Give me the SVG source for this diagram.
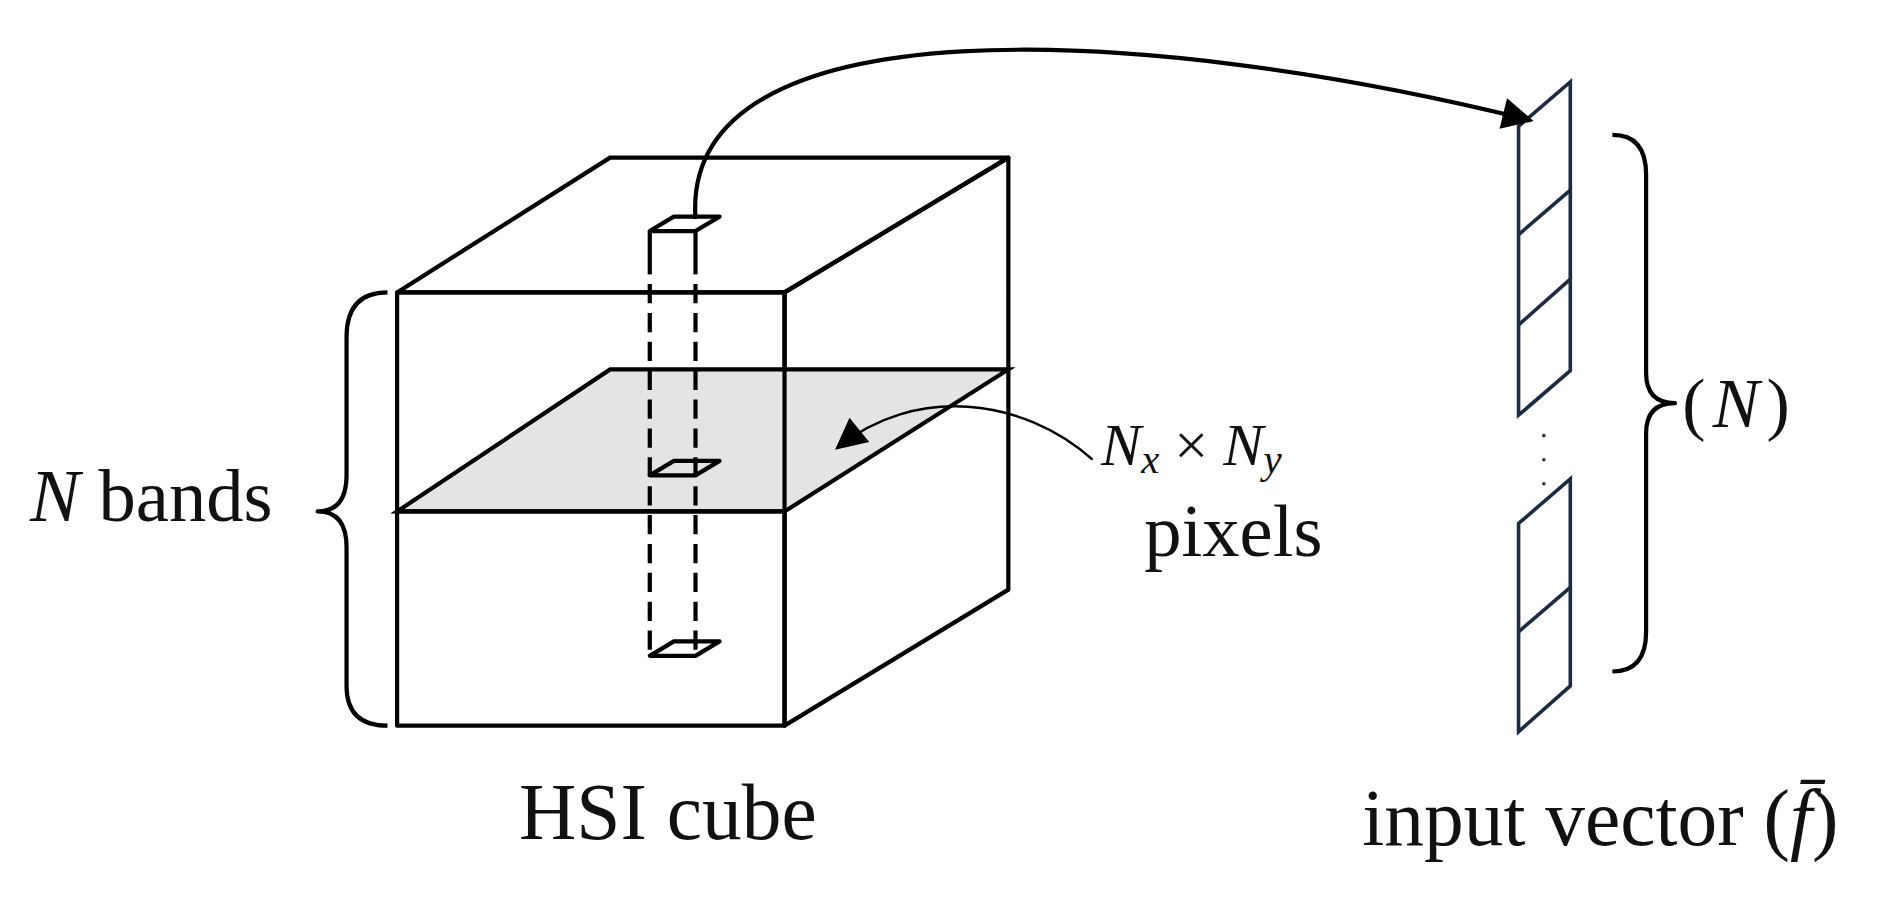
<svg xmlns="http://www.w3.org/2000/svg" width="1877" height="917" viewBox="0 0 1877 917">
<style>
.s{fill:none;stroke:#000;stroke-width:3.5;stroke-linejoin:round}
.d{fill:none;stroke:#000;stroke-width:3.5;stroke-dasharray:16 8}
.v{fill:none;stroke:#1c2a44;stroke-width:3}
.t{font-family:"Liberation Serif",serif;fill:#111}
</style>
<defs>
<marker id="ah2" viewBox="0 0 10 10" refX="9" refY="5" markerWidth="32" markerHeight="26" markerUnits="userSpaceOnUse" orient="auto">
<path d="M0,0 L10,5 L0,10 z" fill="#000"/></marker>
</defs>
<rect width="1877" height="917" fill="#fff"/>
<g transform="scale(1.2033,1.2034)">
<g id="cube">
<polygon class="s" points="330,243 507,131 838,131 652,243"/>
<polygon class="s" points="652,243 838,131 838,490 652,603"/>
<polygon points="330,425 507,307 838,307 652,425" fill="#e4e4e4" stroke="#000" stroke-width="3.5"/>
<rect class="s" x="330" y="243" width="322" height="360"/>
<line class="s" x1="330" y1="425" x2="652" y2="425"/>
</g>
<g id="column">
<polygon class="s" points="540,192 560,180 598,180 578,192" fill="#fff"/>
<line class="s" x1="540" y1="192" x2="540" y2="228"/>
<line class="s" x1="578" y1="192" x2="578" y2="228"/>
<line class="d" x1="540" y1="236" x2="540" y2="545"/>
<line class="d" x1="578" y1="236" x2="578" y2="545"/>
<polygon class="s" points="540,395 560,383 598,383 578,395" fill="#e4e4e4"/>
<polygon class="s" points="540,545 560,533 598,533 578,545" fill="#fff"/>
</g>
<g id="vector">
<polygon class="v" points="1262,105 1305,68 1305,308 1262,345"/>
<line class="v" x1="1262" y1="195" x2="1305" y2="158"/>
<line class="v" x1="1262" y1="270" x2="1305" y2="232"/>
<polygon class="v" points="1262,435 1305,398 1305,570 1262,608"/>
<line class="v" x1="1262" y1="525" x2="1305" y2="488"/>
<g fill="#333"><circle cx="1283" cy="362" r="1.5"/><circle cx="1283" cy="382" r="1.5"/><circle cx="1283" cy="402" r="1.5"/></g>
</g>
<g id="braces" class="s" stroke-width="2.5">
<path d="M322,243 Q288,243 288,280 L288,395 Q288,425 264,425 Q288,425 288,455 L288,570 Q288,603 322,603"/>
<path d="M1340,112 Q1368,112 1368,145 L1368,310 Q1368,335 1392,335 Q1368,335 1368,360 L1368,525 Q1368,558 1340,558"/>
</g>
<g id="connectors">
<path class="s" d="M578,182 C565,0 950,20 1272,100" marker-end="url(#ah2)"/>
<path fill="none" stroke="#000" stroke-width="2" d="M908,382 C850,330 760,320 696,372" marker-end="url(#ah2)"/>
</g>
<g id="labels" class="t">
<text x="25" y="433" font-size="62"><tspan font-style="italic">N</tspan> bands</text>
<text x="915" y="386" font-size="50" font-style="italic">N<tspan font-size="34" dy="7">x</tspan><tspan font-style="normal" dy="-7"> × </tspan>N<tspan font-size="34" dy="7">y</tspan></text>
<text x="1025" y="462" font-size="62" text-anchor="middle">pixels</text>
<text x="1398" y="355" font-size="58" letter-spacing="6">(<tspan font-style="italic">N</tspan>)</text>
<text x="555" y="697" font-size="66" text-anchor="middle">HSI cube</text>
<text x="1330" y="702" font-size="66" text-anchor="middle">input vector (<tspan font-style="italic">f̄</tspan>)</text>
</g>
</g>
</svg>
